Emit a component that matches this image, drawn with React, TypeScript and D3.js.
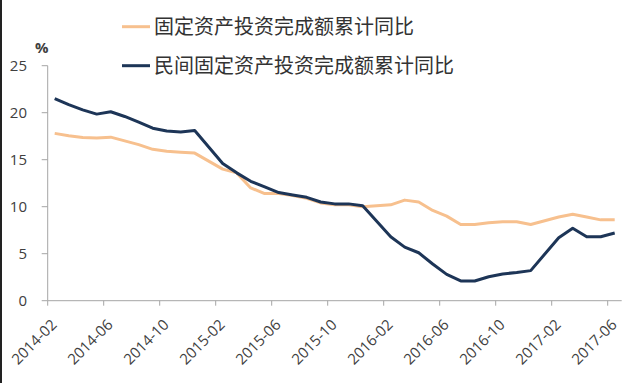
import React from "react";
import * as d3 from "d3";

const months: string[] = [
  "2014-02","2014-03","2014-04","2014-05","2014-06","2014-07","2014-08","2014-09","2014-10","2014-11","2014-12",
  "2015-01","2015-02","2015-03","2015-04","2015-05","2015-06","2015-07","2015-08","2015-09","2015-10","2015-11","2015-12",
  "2016-01","2016-02","2016-03","2016-04","2016-05","2016-06","2016-07","2016-08","2016-09","2016-10","2016-11","2016-12",
  "2017-01","2017-02","2017-03","2017-04","2017-05","2017-06",
];

const totalFAI: (number | null)[] = [
  17.8, 17.55, 17.35, 17.3, 17.4, 17.0, 16.6, 16.1, 15.9, 15.8, 15.7,
  null, 14.0, 13.6, 12.0, 11.4, 11.4, 11.2, 10.9, 10.4, 10.2, 10.2, 10.0,
  null, 10.2, 10.7, 10.5, 9.6, 9.0, 8.1, 8.1, 8.3, 8.4, 8.4, 8.1,
  null, 8.9, 9.2, 8.9, 8.6, 8.6,
];

const privateFAI: (number | null)[] = [
  21.5, 20.85, 20.3, 19.85, 20.1, 19.6, 19.0, 18.35, 18.05, 17.95, 18.1,
  null, 14.6, 13.6, 12.7, 12.1, 11.5, 11.25, 11.0, 10.5, 10.3, 10.3, 10.1,
  null, 6.8, 5.7, 5.1, 3.9, 2.8, 2.1, 2.1, 2.55, 2.85, 3.0, 3.2,
  null, 6.7, 7.7, 6.8, 6.8, 7.2,
];

const yTicks: number[] = [0, 5, 10, 15, 20, 25];
const tickLabels: string[] = ["2014-02","2014-06","2014-10","2015-02","2015-06","2015-10","2016-02","2016-06","2016-10","2017-02","2017-06"];

const seriesNames: string[] = ["固定资产投资完成额累计同比", "民间固定资产投资完成额累计同比"];
const seriesColors: string[] = ["#F7C08E", "#1D3557"];

export default function App() {
  const W = 640, H = 383;
  const left = 47.7, right = 621.7, top = 65.7, bottom = 300.7;

  const x = d3.scaleBand<string>().domain(months).range([left, right]).paddingInner(0).paddingOuter(0);
  const y = d3.scaleLinear().domain([0, 25]).range([bottom, top]);
  const cx = (m: string) => (x(m) as number) + x.bandwidth() / 2;

  const allSeries = [totalFAI, privateFAI];
  const lineGen = d3.line<[string, number]>().x(d => cx(d[0])).y(d => y(d[1]));

  const tickFont = "'Open Sans', 'Liberation Sans', sans-serif";
  const cjkFont = "'Noto Sans CJK SC', sans-serif";

  return (
    <svg width={W} height={H} style={{ position: "absolute", left: 0, top: 0, background: "#fff" }}>
      <rect x={0} y={0} width={W} height={H} fill="#fff" />
      <rect x={0} y={0} width={2} height={H} fill="#222" />
      {/* y axis */}
      <line x1={left} x2={left} y1={top} y2={bottom} stroke="#a6a6a6" strokeWidth={1} />
      {yTicks.map(t => (
        <g key={t}>
          <line x1={left - 6} x2={left} y1={y(t)} y2={y(t)} stroke="#a6a6a6" />
          <text x={27} y={y(t)} dy="0.35em" textAnchor="end" fontSize={15} fill="#404040" fontFamily={tickFont}>{t}</text>
        </g>
      ))}
      <text x={35} y={53} fontSize={15} fontWeight="bold" fill="#404040" fontFamily={tickFont}>%</text>
      {/* x axis */}
      <line x1={left} x2={right} y1={bottom} y2={bottom} stroke="#a6a6a6" strokeWidth={1} />
      {tickLabels.map(m => {
        const bx = x(m) as number;
        const c = cx(m);
        return (
          <g key={m}>
            <line x1={bx} x2={bx} y1={bottom} y2={bottom + 5} stroke="#a6a6a6" />
            <text transform={`translate(${c + 3},${bottom + 25}) rotate(-45)`} textAnchor="end" fontSize={15} fill="#404040" fontFamily={tickFont}>{m}</text>
          </g>
        );
      })}
      {/* lines */}
      {allSeries.map((s, k) => {
        const pts = months.map((m, i) => [m, s[i]] as [string, number | null]).filter(p => p[1] !== null) as [string, number][];
        return <path key={k} d={lineGen(pts) || ""} fill="none" stroke={seriesColors[k]} strokeWidth={3} strokeLinejoin="round" />;
      })}
      {/* legend */}
      {seriesNames.map((n, k) => {
        const ly = 26.7 + k * 39;
        return (
          <g key={n}>
            <line x1={122} x2={150} y1={ly} y2={ly} stroke={seriesColors[k]} strokeWidth={3} />
            <text x={154} y={ly} dy="0.36em" fontSize={20} fill="#333" fontFamily={cjkFont}>{n}</text>
          </g>
        );
      })}
    </svg>
  );
}
